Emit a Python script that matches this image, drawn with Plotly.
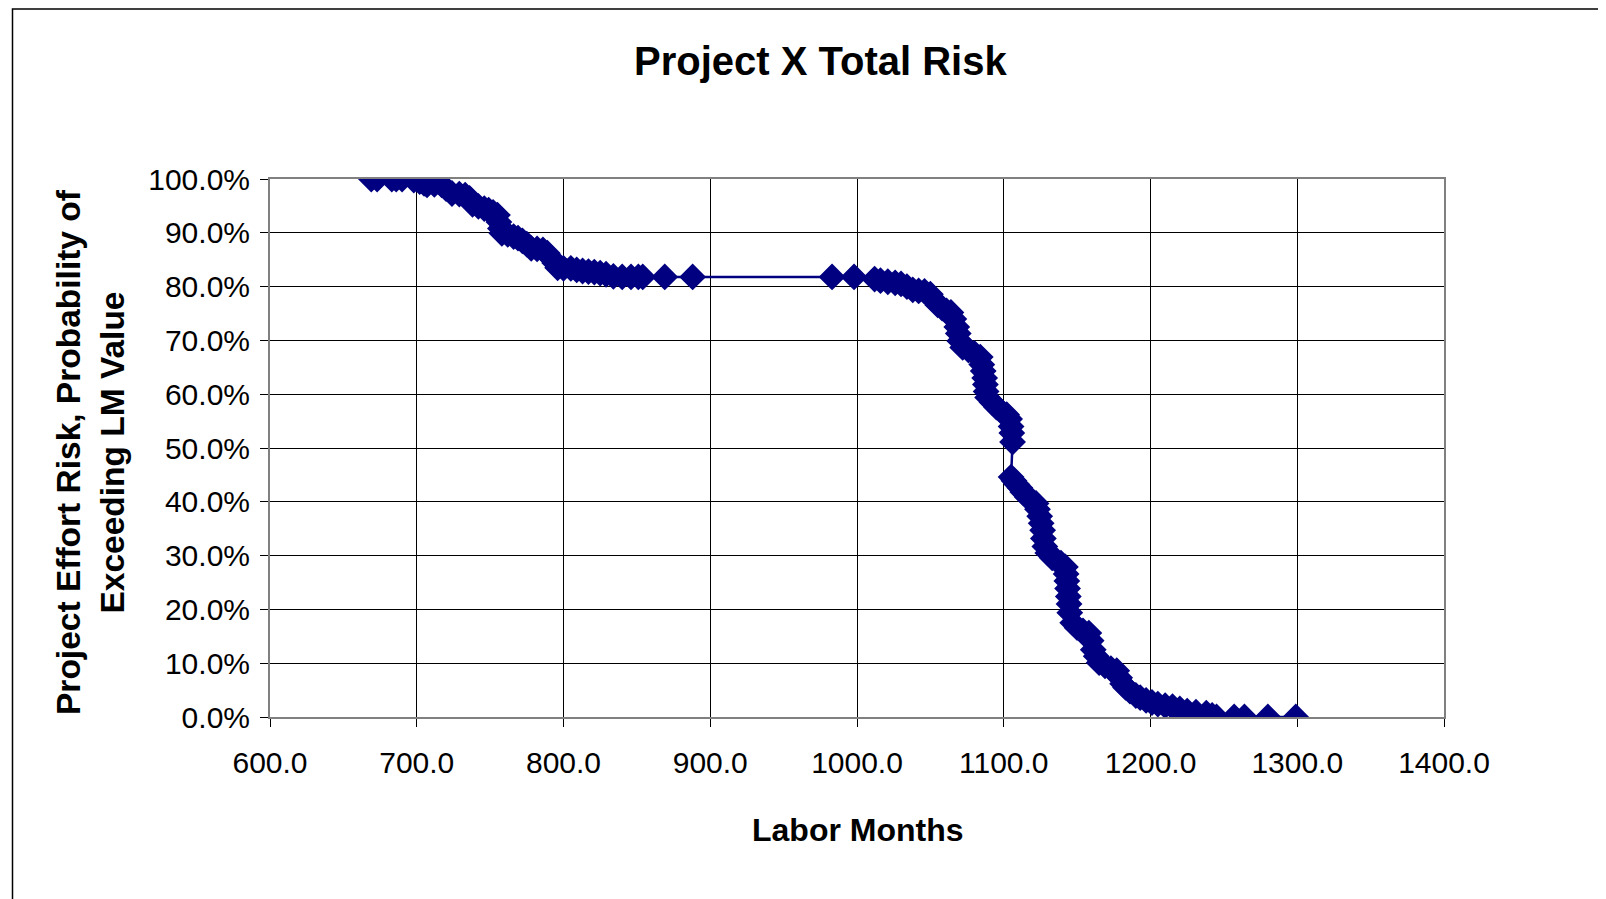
import plotly.graph_objects as go

labor_months = [
    669, 673, 683, 686, 690, 698, 702, 705, 707, 712, 717, 720, 724, 729, 733, 736, 738, 742, 746, 749,
    752, 755, 756, 757, 758, 762, 766, 769, 772, 775, 778, 782, 786, 789, 792, 794, 796, 800, 805, 809,
    813, 817, 821, 825, 829, 834, 840, 846, 851, 854, 869, 888, 983, 998, 1012, 1016, 1021, 1026, 1030, 1034,
    1038, 1042, 1046, 1050, 1053, 1055, 1058, 1061, 1064, 1066, 1068, 1069, 1070, 1072, 1076, 1080, 1084, 1085,
    1086, 1087, 1087.5, 1088, 1089, 1092, 1095, 1098, 1102, 1104, 1105, 1105.5, 1106, 1105, 1107, 1109, 1111,
    1113, 1116, 1119, 1122, 1123, 1124.5, 1125.5, 1126.5, 1127, 1128, 1130, 1133, 1136, 1139, 1142, 1142.5,
    1143, 1143.5, 1144, 1144.5, 1145, 1147, 1150, 1154, 1158, 1159.5, 1161, 1163, 1165, 1169, 1173, 1177,
    1179, 1181, 1183, 1186, 1190, 1193, 1197, 1201, 1205, 1210, 1215, 1220, 1225, 1231, 1238, 1242, 1245,
    1257, 1264, 1280, 1299,
]
risk_pct = [
    100, 100, 100, 100, 100, 99.8, 99.5, 99.2, 98.9, 99.0, 98.9, 98.2, 97.3, 97.2, 97.0, 96.4, 95.3, 94.9, 94.5, 94.2,
    93.8, 93.3, 92.0, 90.8, 89.9, 89.7, 89.3, 89.0, 88.5, 87.9, 87.1, 87.0, 86.8, 86.2, 85.2, 84.4, 83.5, 83.4, 83.4, 83.1,
    82.9, 82.8, 82.7, 82.5, 82.3, 81.9, 81.8, 81.8, 81.8, 81.8, 81.8, 81.8, 81.8, 81.8, 81.4, 81.1, 80.9, 80.7, 80.5, 80.0,
    79.4, 79.2, 79.1, 78.6, 77.4, 76.6, 76.0, 75.5, 75.2, 74.0, 72.5, 71.3, 69.9, 68.7, 68.2, 67.6, 66.9, 65.5,
    64.3, 63.0, 61.8, 60.5, 59.4, 58.5, 57.6, 56.9, 56.2, 55.4, 54.0, 52.8, 51.1, 44.6, 43.9, 43.2, 42.6,
    41.8, 40.9, 40.3, 39.7, 38.6, 37.3, 36.0, 34.7, 33.2, 31.7, 30.5, 29.6, 29.1, 28.6, 27.9, 26.6,
    25.3, 23.9, 22.4, 21.0, 19.4, 17.5, 16.6, 16.0, 15.6, 14.2, 12.5, 11.3, 10.1, 9.5, 9.0, 8.6,
    7.3, 6.2, 5.5, 4.8, 4.0, 3.6, 3.1, 2.7, 2.4, 2.1, 1.9, 1.5, 1.1, 0.9, 0.7, 0.3, 0.0,
    0.0, 0.0, 0.0, 0.0,
]

title_text = "Project X Total Risk"
x_title = "Labor Months"
y_title = "Project Effort Risk, Probability of<br>Exceeding LM Value"

OFF = 8  # page body margin
W, H = 1606 - OFF, 899 - OFF
# plot area edges in page pixels
L, R, T, B = 270 - OFF, 1444 - OFF, 179 - OFF, 717 - OFF


def px(x):
    return (x - OFF - L) / (R - L)


def py(y):
    return (B - (y - OFF)) / (B - T)


FONT = "Liberation Sans, Arial, sans-serif"
NAVY = "#000080"

fig = go.Figure()
fig.add_trace(go.Scatter(
    x=labor_months, y=risk_pct, mode="lines+markers",
    line=dict(color=NAVY, width=2.5),
    marker=dict(symbol="diamond", size=19, color=NAVY, line=dict(width=1.5, color=NAVY)),
    showlegend=False, hoverinfo="x+y",
))

axis_common = dict(
    showgrid=True, gridcolor="#000000", gridwidth=1,
    showline=True, linecolor="#808080", linewidth=2, mirror=True,
    ticks="outside", ticklen=8, tickcolor="#000000", tickwidth=1,
    tickfont=dict(family=FONT, size=30, color="#000000"),
    zeroline=False,
)

fig.update_xaxes(range=[600, 1400], dtick=100, tick0=600, tickformat=".1f",
                 ticklabelstandoff=10, **axis_common)
fig.update_yaxes(range=[0, 100], dtick=10, tick0=0, tickformat=".1f", ticksuffix="%",
                 ticklabelstandoff=4, **axis_common)

fig.update_layout(
    width=W, height=H,
    margin=dict(l=L, r=W - R, t=T, b=H - B),
    paper_bgcolor="white", plot_bgcolor="white",
    font=dict(family=FONT, color="#000000"),
    annotations=[
        dict(text="<b>" + title_text + "</b>", xref="paper", yref="paper",
             x=px(820), y=py(61), xanchor="center", yanchor="middle",
             showarrow=False, font=dict(family=FONT, size=40, color="#000000")),
        dict(text="<b>" + x_title + "</b>", xref="paper", yref="paper",
             x=px(858), y=py(830), xanchor="center", yanchor="middle",
             showarrow=False, font=dict(family=FONT, size=32, color="#000000")),
        dict(text="<b>" + y_title + "</b>", xref="paper", yref="paper",
             x=px(90), y=py(452), xanchor="center", yanchor="middle", textangle=-90,
             showarrow=False, font=dict(family=FONT, size=33.5, color="#000000")),
    ],
    shapes=[
        dict(type="rect", xref="paper", yref="paper",
             x0=px(12.5), x1=px(1650), y0=py(950), y1=py(9),
             line=dict(color="#000000", width=1.5), fillcolor="rgba(0,0,0,0)", layer="below"),
    ],
)

fig.write_html("out.html")
